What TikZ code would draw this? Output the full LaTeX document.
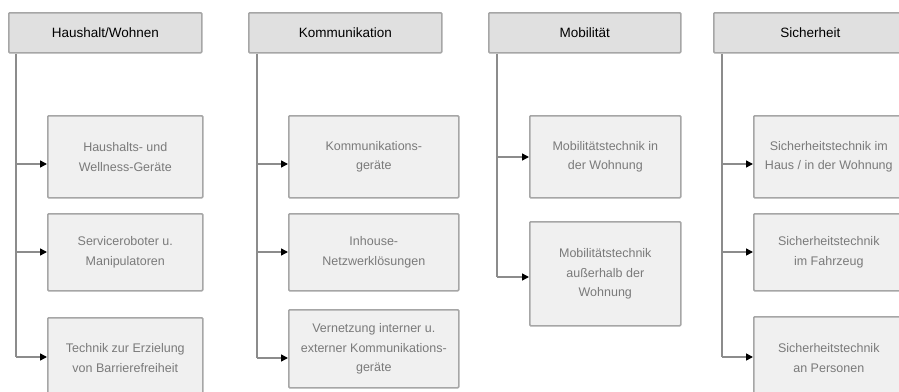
\documentclass[tikz,border=0pt]{standalone}
\usepackage{fontspec}
\setmainfont{Liberation Sans}
\usetikzlibrary{arrows.meta}

\begin{document}
\begin{tikzpicture}[x=1pt, y=-1pt,
    header/.style={draw=borderColour, fill=fillColourHead, line width=1.6pt, rounded corners=1pt,
        anchor=north west, minimum height=40pt, inner sep=0pt, text=black,
        font=\fontsize{13.5}{16}\selectfont},
    item/.style={draw=borderColour, fill=fillColourItem, line width=1.6pt, rounded corners=1pt,
        anchor=north west, inner sep=0pt, align=center, text=textColour,
        font=\fontsize{12.5}{19.5}\selectfont},
    trunk/.style={draw=lineColour, line width=1.5pt},
    link/.style={draw=lineColour, line width=1.5pt, -{Triangle[length=7pt, width=7pt, color=black]}}]

    \definecolor{borderColour}{HTML}{A6A6A6}
    \definecolor{fillColourHead}{HTML}{E0E0E0}
    \definecolor{fillColourItem}{HTML}{F0F0F0}
    \definecolor{lineColour}{HTML}{8C8C8C}
    \definecolor{textColour}{HTML}{7A7A7A}

    \useasboundingbox (0,0) rectangle (899,391);
    \clip (0,0) rectangle (899,391);

    % Headers
    \node[header, minimum width=193pt] (hHaus) at (8,12)   {Haushalt/Wohnen};
    \node[header, minimum width=193pt] (hKomm) at (248,12) {Kommunikation};
    \node[header, minimum width=192pt] (hMob)  at (488,12) {Mobilität};
    \node[header, minimum width=193pt] (hSich) at (713,12) {Sicherheit};

    % Haushalt/Wohnen
    \node[item, minimum width=155pt, minimum height=82pt] (bHaus1) at (47,115) {Haushalts- und\\Wellness-Geräte};
    \node[item, minimum width=155pt, minimum height=77pt] (bHaus2) at (47,213) {Serviceroboter u.\\Manipulatoren};
    \node[item, minimum width=155pt, minimum height=80pt] (bHaus3) at (47,317) {Technik zur Erzielung\\von Barrierefreiheit};

    % Kommunikation
    \node[item, minimum width=170pt, minimum height=82pt] (bKomm1) at (288,115) {Kommunikations-\\geräte};
    \node[item, minimum width=170pt, minimum height=77pt] (bKomm2) at (288,213) {Inhouse-\\Netzwerklösungen};
    \node[item, minimum width=170pt, minimum height=78pt] (bKomm3) at (288,309) {Vernetzung interner u.\\externer Kommunikations-\\geräte};

    % Mobilitaet
    \node[item, minimum width=151pt, minimum height=82pt]  (bMob1) at (529,115) {Mobilitätstechnik in\\der Wohnung};
    \node[item, minimum width=151pt, minimum height=104pt] (bMob2) at (529,221) {Mobilitätstechnik\\außerhalb der\\Wohnung};

    % Sicherheit
    \node[item, minimum width=150pt, minimum height=82pt] (bSich1) at (753,115) {Sicherheitstechnik im\\Haus / in der Wohnung};
    \node[item, minimum width=150pt, minimum height=77pt] (bSich2) at (753,213) {Sicherheitstechnik\\im Fahrzeug};
    \node[item, minimum width=150pt, minimum height=82pt] (bSich3) at (753,316) {Sicherheitstechnik\\an Personen};

    % Branch points on the trunks
    \coordinate (tHaus1) at (16,164);
    \coordinate (tHaus2) at (16,252);
    \coordinate (tHaus3) at (16,357);
    \coordinate (tKomm1) at (257,164);
    \coordinate (tKomm2) at (257,252);
    \coordinate (tKomm3) at (257,358);
    \coordinate (tMob1)  at (497,157);
    \coordinate (tMob2)  at (497,277);
    \coordinate (tSich1) at (722,164);
    \coordinate (tSich2) at (722,252);
    \coordinate (tSich3) at (722,357);

    % Trunks
    \draw[trunk] (hHaus.south -| tHaus1) -- (tHaus3);
    \draw[trunk] (hKomm.south -| tKomm1) -- (tKomm3);
    \draw[trunk] (hMob.south -| tMob1)   -- (tMob2);
    \draw[trunk] (hSich.south -| tSich1) -- (tSich3);

    % Arrows
    \foreach \col/\n in {Haus/1,Haus/2,Haus/3,Komm/1,Komm/2,Komm/3,Mob/1,Mob/2,Sich/1,Sich/2,Sich/3}
        \draw[link] (t\col\n) -- (t\col\n -| b\col\n.west);

\end{tikzpicture}
\end{document}
